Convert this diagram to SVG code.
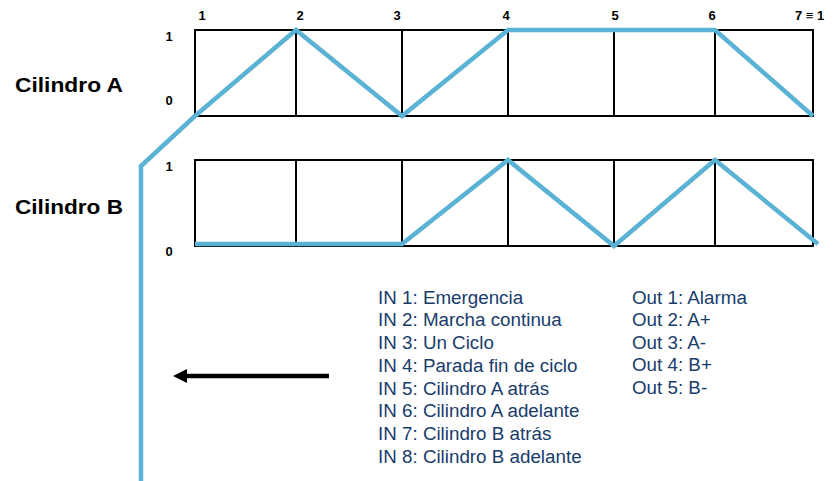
<svg xmlns="http://www.w3.org/2000/svg" width="837" height="481" viewBox="0 0 837 481">
<style>
.grid{fill:none;stroke:#000;stroke-width:2}
.sig{fill:none;stroke:#5ab2d4;stroke-width:4.5;stroke-linejoin:miter;stroke-linecap:butt}
.num{font-family:"Liberation Sans",Arial,sans-serif;font-weight:bold;font-size:13px;fill:#000}
.cyl{font-family:"Liberation Sans",Arial,sans-serif;font-weight:bold;font-size:20px;fill:#000}
.leg{font-family:"Liberation Sans",Arial,sans-serif;font-size:18.8px;fill:#183c6c}
</style>
<rect width="837" height="481" fill="#fff"/>
<g id="step-labels">
<text class="num" x="202" y="20" text-anchor="middle">1</text>
<text class="num" x="300" y="20" text-anchor="middle">2</text>
<text class="num" x="397" y="20" text-anchor="middle">3</text>
<text class="num" x="506" y="20" text-anchor="middle">4</text>
<text class="num" x="615" y="20" text-anchor="middle">5</text>
<text class="num" x="712" y="20" text-anchor="middle">6</text>
<text class="num" x="795" y="20">7 ≡ 1</text>
</g>
<g id="cilindro-a">
<text class="cyl" x="15" y="92" textLength="108" lengthAdjust="spacingAndGlyphs">Cilindro A</text>
<text class="num" x="169" y="41" text-anchor="middle">1</text>
<text class="num" x="169" y="105" text-anchor="middle">0</text>
<rect class="grid" x="195" y="30" width="618" height="86"/>
<path class="grid" d="M296,30V116M402,30V116M508,30V116M614,30V116M715,30V116"/>
</g>
<g id="cilindro-b">
<text class="cyl" x="15" y="214" textLength="108" lengthAdjust="spacingAndGlyphs">Cilindro B</text>
<text class="num" x="169" y="171" text-anchor="middle">1</text>
<text class="num" x="169" y="256" text-anchor="middle">0</text>
<rect class="grid" x="195" y="160" width="618" height="86"/>
<path class="grid" d="M296,160V246M402,160V246M508,160V246M614,160V246M715,160V246"/>
</g>
<g id="connectors">
<path class="sig" d="M141,481 L141,166 L195,116 L296,30 L402,116 L508,30 L715,30 L813,116"/>
<path class="sig" d="M195,244 L402,244 L508,160 L614,246 L715,160 L818,244"/>
<line x1="329" y1="376" x2="185" y2="376" stroke="#000" stroke-width="4.5"/>
<polygon points="173,376 187,369 187,383" fill="#000"/>
</g>
<g id="legend-in">
<text class="leg" x="378" y="303.5">IN 1: Emergencia</text>
<text class="leg" x="378" y="326.3">IN 2: Marcha continua</text>
<text class="leg" x="378" y="349">IN 3: Un Ciclo</text>
<text class="leg" x="378" y="371.8">IN 4: Parada fin de ciclo</text>
<text class="leg" x="378" y="394.5">IN 5: Cilindro A atrás</text>
<text class="leg" x="378" y="417.3">IN 6: Cilindro A adelante</text>
<text class="leg" x="378" y="440">IN 7: Cilindro B atrás</text>
<text class="leg" x="378" y="462.8">IN 8: Cilindro B adelante</text>
</g>
<g id="legend-out">
<text class="leg" x="632" y="303.5">Out 1: Alarma</text>
<text class="leg" x="632" y="326">Out 2: A+</text>
<text class="leg" x="632" y="348.5">Out 3: A-</text>
<text class="leg" x="632" y="371">Out 4: B+</text>
<text class="leg" x="632" y="393.5">Out 5: B-</text>
</g>
</svg>
